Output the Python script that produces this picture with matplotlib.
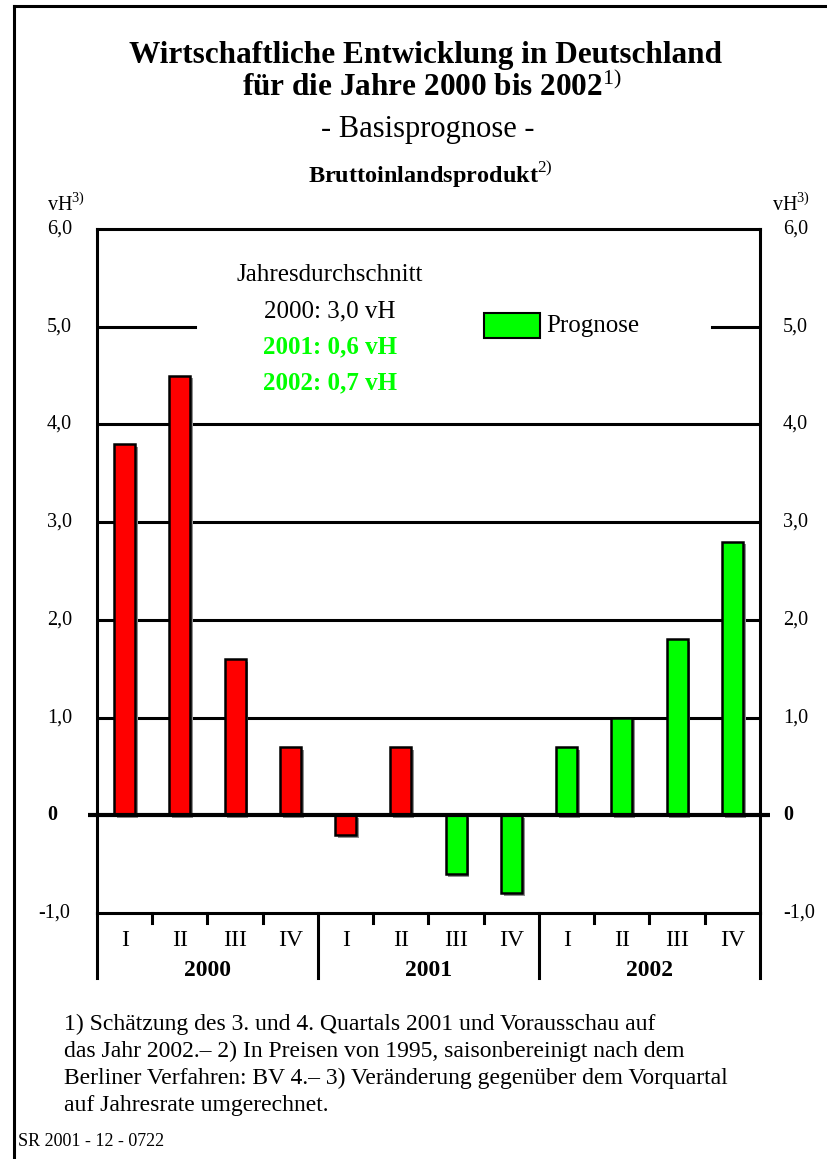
import numpy as np
import matplotlib.pyplot as plt
import matplotlib.patheffects as pe
from matplotlib.lines import Line2D
from matplotlib.patches import Rectangle

plt.rcParams['font.family'] = ['Liberation Serif', 'DejaVu Serif']
plt.rcParams['mathtext.fontset'] = 'custom'
plt.rcParams['mathtext.rm'] = 'Liberation Serif'

# Quartalswerte BIP, Veraenderung gg. Vorquartal (vH, Jahresrate)
quarters = ['I', 'II', 'III', 'IV'] * 3
years = ['2000', '2001', '2002']
values = [3.8, 4.5, 1.6, 0.7, -0.2, 0.7, -0.6, -0.8, 0.7, 1.0, 1.8, 2.8]
forecast = [False] * 6 + [True] * 6
yticks = [6, 5, 4, 3, 2, 1, 0, -1]
ytick_labels = ['6,0', '5,0', '4,0', '3,0', '2,0', '1,0', '0', '-1,0']
avg_lines = ['Jahresdurchschnitt', '2000: 3,0 vH', '2001: 0,6 vH', '2002: 0,7 vH']

W, H = 828, 1159
RED = '#ff0000'
GREEN = '#00ff00'
LW = 2.2


def fx(px):
    return px / W


def fy(py):
    return 1 - py / H


fig = plt.figure(figsize=(W / 100, H / 100), dpi=100)
ax = fig.add_axes([fx(97), fy(913), (760 - 97) / W, (913 - 229) / H])
ax.set_xlim(0, 12)
ax.set_ylim(-1, 6)
ax.set_xticks([])
ax.set_yticks([])
for s in ax.spines.values():
    s.set_linewidth(LW)

# Gitterlinien
for g in [1, 2, 3, 4]:
    ax.plot([0, 12], [g, g], color='black', lw=LW, zorder=1)
ax.plot([0, 1.77], [5, 5], color='black', lw=LW, zorder=1)
ax.plot([11.13, 12], [5, 5], color='black', lw=LW, zorder=1)

# Balken mit Schatten
x = np.arange(12) + 0.5
colors = [GREEN if f else RED for f in forecast]
bars = ax.bar(x, values, width=0.38, color=colors, edgecolor='black', linewidth=1.8, zorder=3)
for b in bars:
    b.set_path_effects([pe.SimplePatchShadow(offset=(2, -2), shadow_rgbFace='#909090', alpha=1.0),
                        pe.Normal()])

# Nulllinie
ax.plot([-0.163, 12.18], [0, 0], color='black', lw=3, zorder=4, clip_on=False, solid_capstyle='butt')

# Kategorienachse
for b in [0, 4, 8, 12]:
    ax.plot([b, b], [-1, -1.665], color='black', lw=LW, clip_on=False)
for b in range(12):
    if b % 4:
        ax.plot([b, b], [-1, -1.1], color='black', lw=LW, clip_on=False)
for xi, q in zip(x, quarters):
    ax.text(xi, -1.28, q, ha='center', va='center', fontsize=17)
for i, yr in enumerate(years):
    ax.text(4 * i + 2, -1.585, yr, ha='center', va='center', fontsize=17, fontweight='bold')

# Achsenbeschriftungen links und rechts
for v, lab in zip(yticks, ytick_labels):
    yy = ax.transData.transform((0, v))[1] / H
    bold = 'bold' if v == 0 else 'normal'
    lx = 38 if v < 0 else 47
    fig.text(fx(lx), yy, lab, ha='left', va='center', fontsize=14.5, fontweight=bold)
    fig.text(fx(783), yy, lab, ha='left', va='center', fontsize=14.5, fontweight=bold)
fig.text(fx(47), fy(205), 'vH$^{3)}$', ha='left', va='center', fontsize=14.5)
fig.text(fx(772), fy(205), 'vH$^{3)}$', ha='left', va='center', fontsize=14.5)

# Jahresdurchschnitt
for i, line in enumerate(avg_lines):
    c = 'black' if i < 2 else GREEN
    w = 'bold' if i >= 2 else 'normal'
    fig.text(fx(330), fy(275 + 36 * i), line, ha='center', va='center', fontsize=18,
             color=c, fontweight=w)

# Legende
fig.add_artist(Rectangle((fx(484), fy(338)), (540 - 484) / W, (338 - 313) / H,
                         facecolor=GREEN, edgecolor='black', lw=1.5, transform=fig.transFigure))
fig.text(fx(546), fy(326), 'Prognose', ha='left', va='center', fontsize=18)

# Titel
fig.text(fx(426), fy(55), 'Wirtschaftliche Entwicklung in Deutschland', ha='center', va='center',
         fontsize=22.5, fontweight='bold')
fig.text(fx(432), fy(87), 'für die Jahre 2000 bis 2002$^{1)}$', ha='center', va='center',
         fontsize=22.5, fontweight='bold')
fig.text(fx(428), fy(130), '- Basisprognose -', ha='center', va='center', fontsize=22)
fig.text(fx(430), fy(175), 'Bruttoinlandsprodukt$^{2)}$', ha='center', va='center', fontsize=17.5,
         fontweight='bold')

# Fussnoten
notes = ['1) Schätzung des 3. und 4. Quartals 2001 und Vorausschau auf',
         'das Jahr 2002.– 2) In Preisen von 1995, saisonbereinigt nach dem',
         'Berliner Verfahren: BV 4.– 3) Veränderung gegenüber dem Vorquartal',
         'auf Jahresrate umgerechnet.']
for i, n in enumerate(notes):
    fig.text(fx(64), fy(1024 + 27 * i), n, ha='left', va='center', fontsize=17)
fig.text(fx(18), fy(1141), 'SR 2001 - 12 - 0722', ha='left', va='center', fontsize=13)

# Rahmen
fig.add_artist(Line2D([fx(14), fx(14)], [fy(6), 0], color='black', lw=LW))
fig.add_artist(Line2D([fx(14), 1], [fy(6), fy(6)], color='black', lw=LW))

fig.savefig('out.png', dpi=100)
